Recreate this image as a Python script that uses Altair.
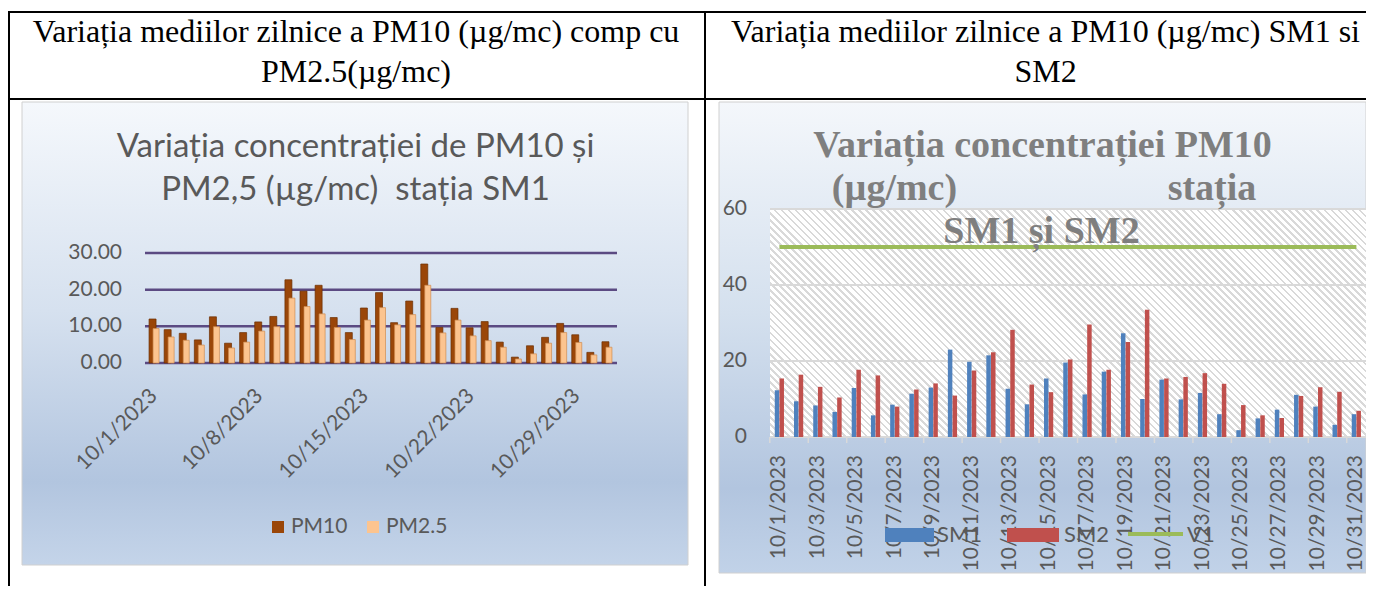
import altair as alt
import pandas as pd

# ---------------- data ----------------
DATES = [f"10/{d}/2023" for d in range(1, 32)]
PM10 = [12.0, 9.1, 8.1, 6.3, 12.6, 5.4, 8.3, 11.2, 12.7, 22.7, 19.6, 21.2, 12.4, 8.3, 15.0, 19.2,
        11.0, 16.9, 27.0, 9.7, 14.9, 9.6, 11.3, 5.7, 1.6, 4.7, 7.0, 10.8, 7.7, 2.9, 5.8]
PM25 = [9.4, 7.1, 6.2, 4.9, 9.9, 4.1, 5.7, 8.7, 9.9, 17.7, 15.4, 13.4, 9.7, 6.4, 11.7, 15.1,
        10.4, 13.2, 21.2, 8.2, 11.7, 7.4, 6.1, 4.3, 1.1, 2.5, 5.4, 8.3, 5.6, 2.2, 4.3]
SM1 = [12.3, 9.4, 8.3, 6.6, 12.9, 5.7, 8.5, 11.4, 13.0, 23.0, 19.8, 21.5, 12.7, 8.6, 15.4, 19.6,
       11.2, 17.2, 27.3, 10.0, 15.1, 9.9, 11.6, 6.0, 1.8, 4.9, 7.2, 11.1, 8.0, 3.2, 6.0]
SM2 = [15.4, 16.4, 13.2, 10.4, 17.7, 16.2, 8.0, 12.5, 14.1, 10.9, 17.5, 22.3, 28.2, 13.8, 11.8, 20.4,
       29.6, 17.7, 25.0, 33.5, 15.4, 15.8, 16.8, 14.0, 8.4, 5.7, 5.0, 10.8, 13.1, 11.9, 6.9]
V1 = [50] * 31

LEFT_TICKS = [0, 10, 20, 30]
RIGHT_TICKS = [0, 20, 40, 60]
LEFT_LABEL_DATES = ["10/1/2023", "10/8/2023", "10/15/2023", "10/22/2023", "10/29/2023"]
RIGHT_LABEL_DATES = DATES[::2]

LEFT_HEADER = ["Variația mediilor zilnice a PM10 (µg/mc) comp cu", "PM2.5(µg/mc)"]
RIGHT_HEADER = ["Variația mediilor zilnice a PM10 (µg/mc) SM1 si", "SM2"]
LEFT_TITLE = ["Variația concentrației de PM10 și", "PM2,5 (µg/mc)\u00a0 stația SM1"]
RIGHT_TITLE = ["Variația concentrației PM10", "(µg/mc)", "stația", "SM1 și SM2"]
LEFT_LEGEND = ["PM10", "PM2.5"]
RIGHT_LEGEND = ["SM1", "SM2", "V1"]

# ---------------- layout / styles ----------------
W, H = 1358, 578
SANS = "Lato"
SERIF = "Liberation Serif"
GREY_TXT = "#595959"

LX = [138.5, 606.5]
LY = [355, 245]
RX = [761.8, 1358]
RY = [429, 201]

left_df = pd.DataFrame({"date": DATES, "PM10": PM10, "PM25": PM25})
right_df = pd.DataFrame({"date": DATES, "SM1": SM1, "SM2": SM2, "V1": V1})
ONE = pd.DataFrame({"a": [1]})


def lxs():
    return alt.Scale(type="band", domain=DATES, range=LX, paddingInner=0, paddingOuter=0)


def lys():
    return alt.Scale(domain=[0, 30], range=LY, nice=False)


def rxs():
    return alt.Scale(type="band", domain=DATES, range=RX, paddingInner=0, paddingOuter=0)


def rys():
    return alt.Scale(domain=[0, 60], range=RY, nice=False)


def txt(t, x, y, size, font=SANS, color=GREY_TXT, weight="normal", align="center", baseline="alphabetic"):
    return alt.Chart(ONE).mark_text(text=t, font=font, fontSize=size, color=color, fontWeight=weight,
                                    align=align, baseline=baseline).encode(x=alt.value(x), y=alt.value(y))


def box(x, x2, y, y2, fill, stroke=None, sw=1):
    kw = {"fill": fill}
    if stroke:
        kw.update(stroke=stroke, strokeWidth=sw)
    return alt.Chart(ONE).mark_rect(**kw).encode(x=alt.value(x), x2=alt.value(x2), y=alt.value(y), y2=alt.value(y2))


def vgrad(stops):
    return alt.LinearGradient(gradient="linear", x1=0, y1=0, x2=0, y2=1,
                              stops=[alt.GradientStop(offset=o, color=c) for o, c in stops])


# hatch pattern as striped gradient
HX0, HX1, HY0, HY1 = 762, 1358, 200, 429
hw, hh = HX1 - HX0, HY1 - HY0
r = hh / hw
k = (1 + r) / (1 + r * r)
N = int(round((hw + hh) / 1.4142 / 5.0))
hstops = []
for i in range(N):
    a, b, c = i / N, (i + 0.62) / N, min(1.0, (i + 1) / N)
    hstops += [(round(a, 5), "#ffffff"), (round(b, 5), "#ffffff"), (round(b, 5), "#d9d9d9"), (round(c, 5), "#d9d9d9")]
hatch_fill = alt.LinearGradient(gradient="linear", x1=0, y1=1, x2=k, y2=1 - k * r,
                                stops=[alt.GradientStop(offset=o, color=c) for o, c in hstops])

back = [
    box(14, 680, 94, 557, vgrad([(0, "#f5f8fc"), (0.45, "#d6e1ef"), (0.82, "#b2c5df"), (1, "#c4d4e9")]), "#d0d0d0"),
    box(711, 1358, 94, 565, vgrad([(0, "#f4f7fb"), (0.45, "#d4e0ee"), (0.82, "#b2c5df"), (1, "#c1d2e8")]), "#d0d0d0"),
    box(HX0, HX1, HY0, HY1, hatch_fill),
]

# ---------------- left chart ----------------
l_grid = alt.Chart(pd.DataFrame({"v": LEFT_TICKS})).mark_rule(color="#5b4a82", strokeWidth=2.5).encode(
    y=alt.Y("v:Q", scale=lys(), axis=None), x=alt.value(137), x2=alt.value(609))
l_ylab = alt.Chart(pd.DataFrame({"v": LEFT_TICKS})).mark_text(
    font=SANS, fontSize=21, color=GREY_TXT, align="right", baseline="middle").encode(
    y=alt.Y("v:Q", scale=lys(), axis=None), x=alt.value(114), text=alt.Text("v:Q", format=".2f"))
l_pm10 = alt.Chart(left_df).mark_bar(width=7, xOffset=-1.5, color="#9a4608", stroke="#6b2e00", strokeWidth=0.7).encode(
    x=alt.X("date:N", scale=lxs(), axis=None), y=alt.Y("PM10:Q", scale=lys(), axis=None))
l_pm25 = alt.Chart(left_df).mark_bar(width=6, xOffset=2, color="#fcc48f", stroke="#d08c50", strokeWidth=0.7).encode(
    x=alt.X("date:N", scale=lxs(), axis=None), y=alt.Y("PM25:Q", scale=lys(), axis=None))
l_xlab = alt.Chart(pd.DataFrame({"date": LEFT_LABEL_DATES})).mark_text(
    font=SANS, fontSize=21, color=GREY_TXT, angle=315, align="right", baseline="middle").encode(
    x=alt.X("date:N", scale=lxs(), axis=None), y=alt.value(385), text="date:N")
left = alt.layer(l_grid, l_ylab, l_pm10, l_pm25, l_xlab)

# ---------------- right chart ----------------
r_grid = alt.Chart(pd.DataFrame({"v": RIGHT_TICKS})).mark_rule(color="#d9d9d9", strokeWidth=2).encode(
    y=alt.Y("v:Q", scale=rys(), axis=None), x=alt.value(HX0), x2=alt.value(HX1))
r_ticks = alt.Chart(pd.DataFrame({"date": RIGHT_LABEL_DATES})).mark_rule(color="#d9d9d9", strokeWidth=1.5).encode(
    x=alt.X("date:N", scale=rxs(), axis=None, bandPosition=0), y=alt.value(429), y2=alt.value(435))
r_ylab = alt.Chart(pd.DataFrame({"v": RIGHT_TICKS})).mark_text(
    font=SANS, fontSize=21, color=GREY_TXT, align="right", baseline="middle").encode(
    y=alt.Y("v:Q", scale=rys(), axis=None), x=alt.value(739), text=alt.Text("v:Q", format="d"))
r_sm1 = alt.Chart(right_df).mark_bar(width=4.5, xOffset=-2.4, color="#4f81bd").encode(
    x=alt.X("date:N", scale=rxs(), axis=None), y=alt.Y("SM1:Q", scale=rys(), axis=None))
r_sm2 = alt.Chart(right_df).mark_bar(width=4.5, xOffset=2.3, color="#c0504d").encode(
    x=alt.X("date:N", scale=rxs(), axis=None), y=alt.Y("SM2:Q", scale=rys(), axis=None))
r_v1 = alt.Chart(right_df).mark_line(color="#9bbb59", strokeWidth=4).encode(
    x=alt.X("date:N", scale=rxs(), axis=None), y=alt.Y("V1:Q", scale=rys(), axis=None))
r_xlab = alt.Chart(pd.DataFrame({"date": RIGHT_LABEL_DATES})).mark_text(
    font=SANS, fontSize=21, color=GREY_TXT, angle=270, align="right", baseline="middle").encode(
    x=alt.X("date:N", scale=rxs(), axis=None), y=alt.value(447), text="date:N")
right = alt.layer(r_grid, r_ticks, r_ylab, r_sm1, r_sm2, r_v1, r_xlab)

# ---------------- front decorations ----------------
TG = "#7f7f7f"
front = [
    txt(LEFT_TITLE[0], 347.5, 149, 33),
    txt(LEFT_TITLE[1], 347.5, 192, 33),
    txt(RIGHT_TITLE[0], 1034.5, 149, 38, font=SERIF, color=TG, weight="bold"),
    txt(RIGHT_TITLE[1], 886.5, 192, 38, font=SERIF, color=TG, weight="bold"),
    txt(RIGHT_TITLE[2], 1204, 192, 38, font=SERIF, color=TG, weight="bold"),
    txt(RIGHT_TITLE[3], 1033.5, 235, 38, font=SERIF, color=TG, weight="bold"),
    # left legend
    box(264, 276, 513, 525, "#9a4608"),
    txt(LEFT_LEGEND[0], 283, 519, 21, align="left", baseline="middle"),
    box(359, 371, 513, 525, "#fcc48f"),
    txt(LEFT_LEGEND[1], 378, 519, 21, align="left", baseline="middle"),
    # right legend
    box(877, 926, 520, 534, "#4f81bd"),
    txt(RIGHT_LEGEND[0], 929, 527, 22, align="left", baseline="middle"),
    box(999, 1051, 520, 534, "#c0504d"),
    txt(RIGHT_LEGEND[1], 1056, 527, 22, align="left", baseline="middle"),
    alt.Chart(ONE).mark_rule(color="#9bbb59", strokeWidth=4).encode(
        x=alt.value(1120), x2=alt.value(1175), y=alt.value(526)),
    txt(RIGHT_LEGEND[2], 1179, 527, 22, align="left", baseline="middle"),
    # headers
    txt(LEFT_HEADER[0], 348, 34, 32, font=SERIF, color="#000000"),
    txt(LEFT_HEADER[1], 348, 74, 32, font=SERIF, color="#000000"),
    txt(RIGHT_HEADER[0], 1037.5, 34, 32, font=SERIF, color="#000000"),
    txt(RIGHT_HEADER[1], 1037.5, 74, 32, font=SERIF, color="#000000"),
    # table lines
    alt.Chart(ONE).mark_rule(color="#000000", strokeWidth=2).encode(x=alt.value(0), x2=alt.value(W), y=alt.value(4)),
    alt.Chart(ONE).mark_rule(color="#000000", strokeWidth=2).encode(x=alt.value(0), x2=alt.value(W), y=alt.value(91)),
    alt.Chart(ONE).mark_rule(color="#000000", strokeWidth=2).encode(x=alt.value(1), y=alt.value(4), y2=alt.value(H)),
    alt.Chart(ONE).mark_rule(color="#000000", strokeWidth=2).encode(x=alt.value(697), y=alt.value(4), y2=alt.value(H)),
]

chart = alt.layer(*back, left, right, *front).resolve_scale(x="independent", y="independent").properties(
    width=W, height=H, autosize=alt.AutoSizeParams(type="none"), padding=0, background="#ffffff"
).configure_view(stroke=None)

chart.save("out.html", embed_options={"renderer": "svg", "actions": False})
